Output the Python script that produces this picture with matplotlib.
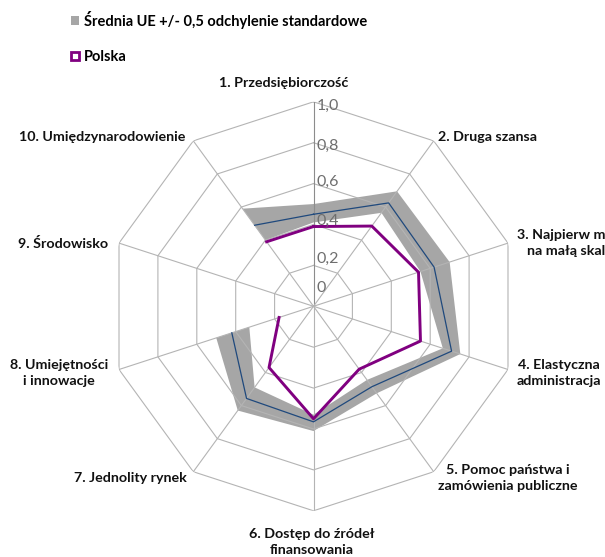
import numpy as np
import matplotlib
matplotlib.use('Agg')
import matplotlib.pyplot as plt
from matplotlib.patches import Patch

plt.rcParams['font.family'] = ['Lato', 'DejaVu Sans']

# dane (oś 9 bez danych)
categories = ['1. Przedsiębiorczość', '2. Druga szansa',
              '3. Najpierw myśl\nna małą skalę', '4. Elastyczna\nadministracja',
              '5. Pomoc państwa i\nzamówienia publiczne', '6. Dostęp do źródeł\nfinansowania',
              '7. Jednolity rynek', '8. Umiejętności\ni innowacje',
              '9. Środowisko', '10. Umiędzynarodowienie']
ue_mean = [0.45, 0.625, 0.62, 0.71, 0.486, 0.565, 0.557, 0.42, np.nan, 0.49]
ue_low = [0.41, 0.565, 0.55, 0.665, 0.445, 0.53, 0.49, 0.33, np.nan, 0.40]
ue_high = [0.50, 0.695, 0.70, 0.755, 0.526, 0.61, 0.63, 0.50, np.nan, 0.59]
polska = [0.39, 0.485, 0.54, 0.55, 0.38, 0.55, 0.37, 0.177, np.nan, 0.39]
r_ticks = [0, 0.2, 0.4, 0.6, 0.8, 1.0]
r_tick_labels = ['0', '0,2', '0,4', '0,6', '0,8', '1,0']
legend_labels = ['Średnia UE +/- 0,5 odchylenie standardowe', 'Polska']

BAND = '#a6a6a6'
GRID = '#b4b4b4'
BLUE = '#1f497d'
PURPLE = '#800080'

W, H = 605, 557
cx, cy, rad = 313.5, 306.3, 204.5

fig = plt.figure(figsize=(W / 100, H / 100), dpi=100)
ax = fig.add_axes([(cx - rad) / W, 1 - (cy + rad) / H, 2 * rad / W, 2 * rad / H],
                  projection='polar')
ax.set_theta_zero_location('N')
ax.set_theta_direction(-1)
ax.set_ylim(0, 1)
ax.grid(False)
ax.spines['polar'].set_visible(False)
ax.set_xticks([])
ax.set_yticks([])
ax.patch.set_alpha(0)

n = len(categories)
theta = np.deg2rad(np.arange(n) * 360.0 / n)
closed = np.append(theta, 2 * np.pi)

mean = np.array(ue_mean)
low = np.array(ue_low)
high = np.array(ue_high)
pl = np.array(polska)

# pasmo: od osi po brakującej wartości do osi przed nią
gap = int(np.where(np.isnan(mean))[0][0])
order = np.roll(np.arange(n), -(gap + 1))[:-1]
th = np.unwrap(theta[order])
ax.fill(np.concatenate([th, th[::-1]]),
        np.concatenate([high[order], low[order][::-1]]),
        color=BAND, lw=0, zorder=1)

# siatka wielokątna
for lev in r_ticks[1:]:
    ax.plot(closed, [lev] * (n + 1), color=GRID, lw=0.8, zorder=2)
for i, t in enumerate(theta):
    ax.plot([t, t], [0, 1], color='#8c8c8c' if i == 0 else GRID, lw=0.8, zorder=2)

ax.plot(closed, np.append(mean, mean[0]), color=BLUE, lw=0.9, zorder=3)
ax.plot(closed, np.append(pl, pl[0]), color=PURPLE, lw=2.1, zorder=4)

# etykiety osi wartości
tick_dy = [18, 7, 4, 2, -3, -4]
for v, lab, dy in zip(r_ticks, r_tick_labels, tick_dy):
    ax.annotate(lab, (0, v), xytext=(3, dy), textcoords='offset pixels',
                ha='left', va='center', fontsize=11.5, color='#6e6e6e', zorder=5)

# etykiety kategorii
lab_pos = [((-30, 19), 'center'), ((4, 4), 'left'), ((9, 0), 'left'),
           ((9, -3.5), 'left'), ((4, -6), 'left'), ((-1.5, -31), 'center'),
           ((-6.5, -6), 'right'), ((-11, -3.5), 'right'), ((-10.5, 0), 'right'),
           ((-8, 4), 'right')]
for t, lab, (off, ha) in zip(theta, categories, lab_pos):
    ax.annotate(lab, (t, 1.0), xytext=off, textcoords='offset pixels',
                ha=ha, va='center', multialignment='center', linespacing=1.4,
                fontsize=10.3, fontweight='bold', color='#111111',
                annotation_clip=False)

handles = [Patch(facecolor=BAND, edgecolor='none', label=legend_labels[0]),
           Patch(facecolor='white', edgecolor=PURPLE, linewidth=2, label=legend_labels[1])]
fig.legend(handles=handles, loc='upper left', bbox_to_anchor=(71 / W, 1 - 11 / H),
           frameon=False, handlelength=0.55, handleheight=0.55, handletextpad=0.35,
           labelspacing=1.45, borderpad=0, borderaxespad=0,
           prop={'size': 10.5, 'weight': 'bold'})

fig.savefig('out.png', dpi=100, facecolor='white')
